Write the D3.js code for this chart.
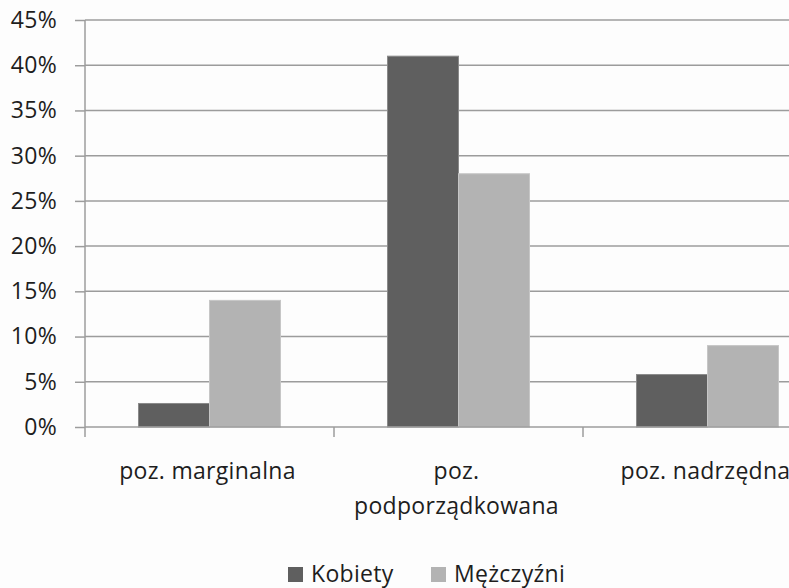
<!DOCTYPE html>
<html>
<head>
<meta charset="utf-8">
<script src="https://cdn.jsdelivr.net/npm/d3@7"></script>
<style>
  html, body { margin: 0; padding: 0; background: #fdfdfd; }
  svg { display: block; }
  text { font-family: "Open Sans", "DejaVu Sans", sans-serif; fill: #1e1e1e; letter-spacing: 0.3px; }
</style>
</head>
<body>
<svg id="chart" width="789" height="588"></svg>
<script>
// Data
const categories = ["poz. marginalna", "poz. podporządkowana", "poz. nadrzędna"];
const seriesNames = ["Kobiety", "Mężczyźni"];
const kobiety = [0.026, 0.41, 0.058];
const mezczyzni = [0.14, 0.28, 0.09];
const yTicks = [0, 0.05, 0.10, 0.15, 0.20, 0.25, 0.30, 0.35, 0.40, 0.45];
const categoryLines = [["poz. marginalna"], ["poz.", "podporządkowana"], ["poz. nadrzędna"]];

const colors = { "Kobiety": "#5f5f5f", "Mężczyźni": "#b3b3b3" };
const FONT = 23;

const svg = d3.select("#chart");
const W = 789, H = 588;
const plot = { left: 85, right: 832, top: 20, bottom: 427 };

svg.append("rect").attr("width", W).attr("height", H).attr("fill", "#fdfdfd");

const x0 = d3.scaleBand().domain(categories).range([plot.left, plot.right]).padding(0);
const x1 = d3.scaleBand().domain(seriesNames).range([0, x0.bandwidth()])
  .paddingInner(0).paddingOuter(0.754);
const y = d3.scaleLinear().domain([0, 0.45]).range([plot.bottom, plot.top]);

// Horizontal gridlines
svg.append("g").selectAll("line").data(yTicks.slice(1)).join("line")
  .attr("x1", plot.left).attr("x2", plot.right)
  .attr("y1", d => y(d)).attr("y2", d => y(d))
  .attr("stroke", "#9c9c9c").attr("stroke-width", 1.5);

// Bars
const rows = categories.map((c, i) => ({ cat: c, vals: [
  { s: "Kobiety", v: kobiety[i] }, { s: "Mężczyźni", v: mezczyzni[i] } ] }));

const groups = svg.append("g").selectAll("g").data(rows).join("g")
  .attr("transform", d => `translate(${x0(d.cat)},0)`);
groups.selectAll("rect").data(d => d.vals).join("rect")
  .attr("x", d => x1(d.s))
  .attr("width", x1.bandwidth())
  .attr("y", d => y(d.v))
  .attr("height", d => y(0) - y(d.v))
  .attr("fill", d => colors[d.s])
  .attr("stroke", d => d.s === "Kobiety" ? "#8a8a8a" : "#c6c6c6")
  .attr("stroke-width", 1);

// Y axis
const yAxis = d3.axisLeft(y).tickValues(yTicks).tickSize(10).tickPadding(18)
  .tickFormat(d => Math.round(d * 100) + "%");
const gy = svg.append("g").attr("transform", `translate(${plot.left},0)`).call(yAxis);
gy.select(".domain").remove();
gy.selectAll(".tick line").attr("stroke", "#9c9c9c").attr("stroke-width", 1.5);
gy.selectAll(".tick text").attr("font-size", FONT).attr("fill", "#1e1e1e")
  .style("font-family", "'Open Sans', sans-serif");
svg.append("line").attr("x1", plot.left).attr("x2", plot.left)
  .attr("y1", plot.top).attr("y2", plot.bottom + 10)
  .attr("stroke", "#9c9c9c").attr("stroke-width", 1.5);

// X axis baseline and category ticks
svg.append("line").attr("x1", plot.left).attr("x2", plot.right)
  .attr("y1", plot.bottom).attr("y2", plot.bottom)
  .attr("stroke", "#9c9c9c").attr("stroke-width", 1.5);
const edges = categories.map(c => x0(c) + x0.bandwidth()).slice(0, -1);
svg.append("g").selectAll("line").data(edges).join("line")
  .attr("x1", d => d).attr("x2", d => d)
  .attr("y1", plot.bottom).attr("y2", plot.bottom + 10)
  .attr("stroke", "#9c9c9c").attr("stroke-width", 1.5);

// Category labels
const labels = svg.append("g").selectAll("text").data(categories).join("text")
  .attr("x", d => x0(d) + x0.bandwidth() / 2 - 2)
  .attr("y", 479)
  .attr("text-anchor", "middle")
  .attr("font-size", FONT);
labels.each(function (d, i) {
  const t = d3.select(this);
  categoryLines[i].forEach((ln, j) => {
    t.append("tspan").attr("x", x0(d) + x0.bandwidth() / 2 - 2)
      .attr("dy", j === 0 ? 0 : 35).text(ln);
  });
});

// Legend
const legendItems = [
  { s: "Kobiety", x: 288 },
  { s: "Mężczyźni", x: 431 }
];
const lg = svg.append("g").selectAll("g").data(legendItems).join("g")
  .attr("transform", d => `translate(${d.x},0)`);
lg.append("rect").attr("x", 0).attr("y", 567).attr("width", 15).attr("height", 15)
  .attr("fill", d => colors[d.s]);
lg.append("text").attr("x", 23).attr("y", 582).attr("font-size", FONT).text(d => d.s);
</script>
</body>
</html>
